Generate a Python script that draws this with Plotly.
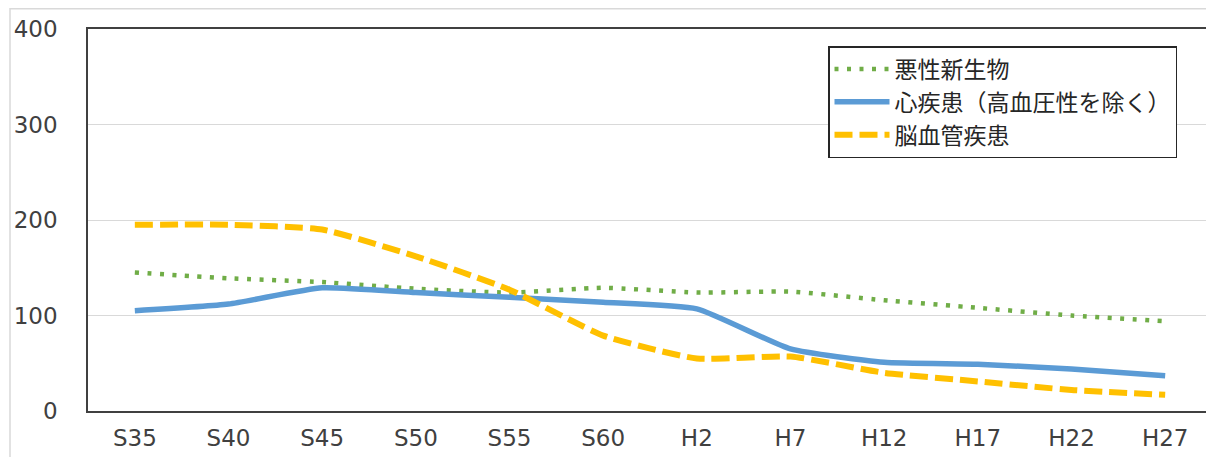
import plotly.graph_objects as go

categories = ["S35", "S40", "S45", "S50", "S55", "S60", "H2", "H7", "H12", "H17", "H22", "H27"]
tick_labels = ["S35", "S40", "S45", "S50", "S55", "S60", "H2", "H7", "H12", "H17", "H22", "H27"]
cancer = [145, 139, 135, 128, 124, 129, 124, 125, 116, 108, 100, 94]
heart = [105, 112, 129, 124, 119, 114, 107, 65, 51, 49, 44, 37]
stroke = [195, 195, 190, 162, 127, 79, 55, 57, 40, 31, 22, 17]

names = ["悪性新生物", "心疾患（高血圧性を除く）", "脳血管疾患"]
colors = ["#70ad47", "#5b9bd5", "#ffc000"]

# figure is placed by the page at (8, 8); geometry below is in figure pixels
W, H = 1206, 449
L, R, T, B = 80, 2, 21, 46
PW, PH = W - L - R, H - T - B

fig = go.Figure()
fig.add_trace(go.Scatter(x=categories, y=cancer, name=names[0], mode="lines",
                         line=dict(color=colors[0], width=4.5, dash="4px,8.5px", shape="spline", smoothing=0.5)))
fig.add_trace(go.Scatter(x=categories, y=heart, name=names[1], mode="lines",
                         line=dict(color=colors[1], width=5.5, shape="spline", smoothing=0.5)))
fig.add_trace(go.Scatter(x=categories, y=stroke, name=names[2], mode="lines",
                         line=dict(color=colors[2], width=6, dash="18px,7px", shape="spline", smoothing=0.5)))

font_family = "Noto Sans CJK JP"
tick_family = "DejaVu Sans"
fig.update_layout(
    width=W, height=H,
    margin=dict(l=L, r=R, t=T, b=B, autoexpand=False),
    paper_bgcolor="white", plot_bgcolor="white",
    font=dict(family=font_family, color="#404040"),
    showlegend=True,
    legend=dict(x=(820 - L) / PW, y=(T + PH - 38) / PH, xanchor="left", yanchor="top",
                bgcolor="white", bordercolor="#262626", borderwidth=1.5,
                font=dict(family=font_family, size=23, color="#262626"),
                tracegroupgap=0, itemwidth=55),
    xaxis=dict(type="category", tickmode="array", tickvals=categories, ticktext=tick_labels,
               range=[-0.5, 11.5], showgrid=False, showline=True, mirror=True,
               linecolor="#404040", linewidth=1.5, ticks="",
               tickfont=dict(size=23, color="#404040", family=tick_family),
               ticklabelstandoff=6),
    yaxis=dict(range=[0, 400], tickvals=[0, 100, 200, 300, 400],
               showgrid=True, gridcolor="#d9d9d9", gridwidth=1,
               showline=True, mirror=True, linecolor="#404040", linewidth=1.5,
               ticks="", zeroline=False,
               tickfont=dict(size=23, color="#404040", family=tick_family),
               ticklabelstandoff=24),
)

fig.add_shape(type="rect", xref="paper", yref="paper",
              x0=(2 - L) / PW, x1=(W + 5 - L) / PW,
              y0=(T + PH - H - 5) / PH, y1=(T + PH - 0.75) / PH,
              line=dict(color="#d9d9d9", width=1.5), layer="below")

fig.write_html("out.html")
